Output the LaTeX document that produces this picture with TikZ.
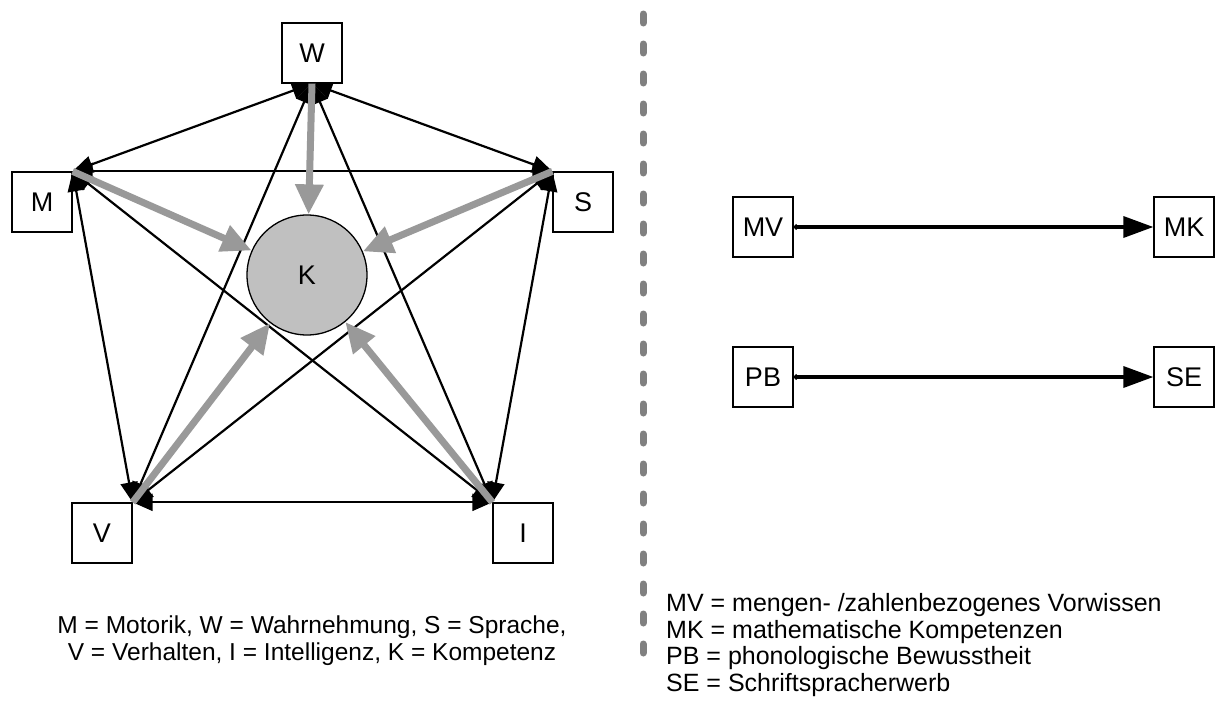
\documentclass[tikz,border=0pt]{standalone}
\usepackage{fontspec}
\setmainfont{Liberation Sans}
\usetikzlibrary{arrows.meta}
\definecolor{arrowgray}{HTML}{999999}
\definecolor{kfill}{HTML}{C0C0C0}
\definecolor{sepgray}{HTML}{808080}
\tikzset{
  factor/.style={draw=black, line width=1.3pt, fill=white, minimum width=60pt, minimum height=60pt, inner sep=0pt, font=\fontsize{27}{30}\selectfont},
  core/.style={circle, draw=black, line width=1.3pt, fill=kfill, minimum size=120pt, inner sep=0pt, font=\fontsize{27}{30}\selectfont},
  link/.style={line width=2.2pt, {Triangle[length=20pt,width=17pt]}-{Triangle[length=20pt,width=17pt]}},
  effect/.style={arrowgray, line width=7pt, -{Triangle[length=30pt,width=27pt]}},
  flow/.style={line width=3.5pt, {Circle[length=5pt]}-{Triangle[length=30pt,width=21pt]}},
  legend/.style={anchor=north west, align=left, inner sep=0pt, font=\fontsize{25}{26.7}\selectfont},
  caption/.style={anchor=north, align=center, inner sep=0pt, font=\fontsize{24.5}{27}\selectfont},
  separator/.style={sepgray, line width=7pt, line cap=round, dash pattern=on 9pt off 21pt}
}
\begin{document}
\begin{tikzpicture}[x=1pt,y=-1pt]
\useasboundingbox (0,0) rectangle (1224,704);

% factor boxes
\node[factor] (W) at (312,53) {W};
\node[factor] (M) at (42,202) {M};
\node[factor] (S) at (583,202) {S};
\node[factor] (V) at (102,533) {V};
\node[factor] (I) at (523,533) {I};

% mutual influences between all factors
\draw[link] (W.south) -- (M.north east);
\draw[link] (W.south) -- (S.north west);
\draw[link] (W.south) -- (V.north east);
\draw[link] (W.south) -- (I.north west);
\draw[link] (M.north east) -- (S.north west);
\draw[link] (M.north east) -- (V.north east);
\draw[link] (M.north east) -- (I.north west);
\draw[link] (S.north west) -- (V.north east);
\draw[link] (S.north west) -- (I.north west);
\draw[link] (V.north east) -- (I.north west);

% competence
\node[core] (K) at (307,275) {K};

% effects on competence
\draw[effect] (W.south) -- (K);
\draw[effect] (M.north east) -- (K);
\draw[effect] (S.north west) -- (K);
\draw[effect] (V.north east) -- (K);
\draw[effect] (I.north west) -- (K);

% separator
\coordinate (sepTop) at (643,14);
\coordinate (sepBot) at (643,662);
\draw[separator] (sepTop) -- (sepBot);

% precursor skills
\node[factor] (MV) at (763,227) {MV};
\node[factor] (MK) at (1184,227) {MK};
\node[factor] (PB) at (763,377) {PB};
\node[factor] (SE) at (1184,377) {SE};
\draw[flow] (MV.east) -- (MK.west);
\draw[flow] (PB.east) -- (SE.west);

% legends
\node[caption] (capL) at (312,616) {M = Motorik, W = Wahrnehmung, S = Sprache,\\V = Verhalten, I = Intelligenz, K = Kompetenz};
\node[legend] (capR) at (666,593) {MV = mengen- /zahlenbezogenes Vorwissen\\MK = mathematische Kompetenzen\\PB = phonologische Bewusstheit\\SE = Schriftspracherwerb};
\end{tikzpicture}
\end{document}
